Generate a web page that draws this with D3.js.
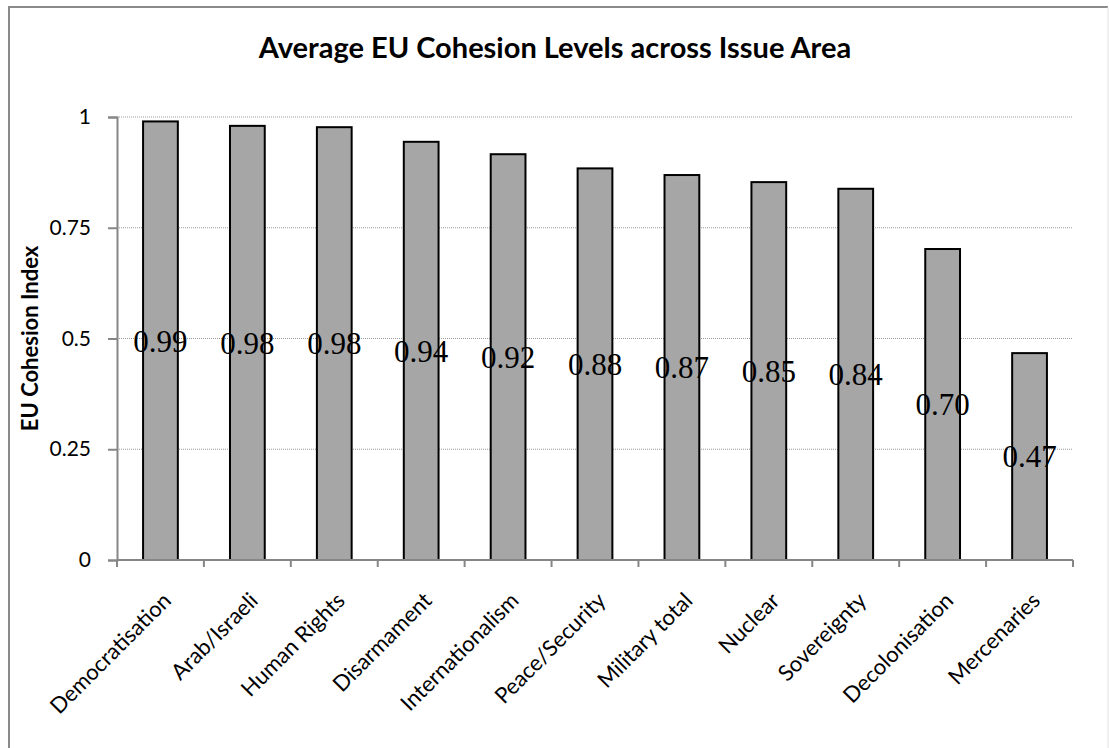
<!DOCTYPE html>
<html>
<head>
<meta charset="utf-8">
<script src="https://cdn.jsdelivr.net/npm/d3@7"></script>
<style>
  html, body { margin: 0; padding: 0; background: #fff; }
</style>
</head>
<body>
<div id="chart"></div>
<script>
// Chart data
const categories = ["Democratisation", "Arab/Israeli", "Human Rights", "Disarmament", "Internationalism",
    "Peace/Security", "Military total", "Nuclear", "Sovereignty", "Decolonisation", "Mercenaries"];
const values = [0.99, 0.98, 0.977, 0.944, 0.916, 0.884, 0.869, 0.853, 0.838, 0.702, 0.467];
const valueLabels = ["0.99", "0.98", "0.98", "0.94", "0.92", "0.88", "0.87", "0.85", "0.84", "0.70", "0.47"];
const yTicks = [0, 0.25, 0.5, 0.75, 1];
const yTickLabels = ["0", "0.25", "0.5", "0.75", "1"];

const W = 1109, H = 748;
const margin = { top: 117, right: 36, bottom: 188, left: 117 },
      width = W - margin.left - margin.right,
      height = H - margin.top - margin.bottom;

const sansFont = "Lato, 'Open Sans', sans-serif";

const root = d3.select("#chart")
    .append("svg")
    .attr("width", W)
    .attr("height", H);

// Outer chart border (left and top dark, right edge faint)
root.append("line")
    .attr("x1", 9).attr("x2", 9).attr("y1", 7).attr("y2", H)
    .attr("stroke", "#8a8a8a").attr("stroke-width", 2);
root.append("line")
    .attr("x1", 8).attr("x2", 1108).attr("y1", 7).attr("y2", 7)
    .attr("stroke", "#8a8a8a").attr("stroke-width", 2);
root.append("line")
    .attr("x1", 1108).attr("x2", 1108).attr("y1", 7).attr("y2", H)
    .attr("stroke", "#e2e2e2").attr("stroke-width", 1);

// Title
root.append("text")
    .attr("x", 555)
    .attr("y", 58)
    .attr("text-anchor", "middle")
    .style("font-family", sansFont)
    .style("font-weight", "bold")
    .style("font-size", "29px")
    .text("Average EU Cohesion Levels across Issue Area");

const svg = root.append("g")
    .attr("transform", `translate(${margin.left},${margin.top})`);

// Scales
const x = d3.scaleBand()
    .domain(categories)
    .range([0, width])
    .paddingInner(0.6)
    .paddingOuter(0.3);

const y = d3.scaleLinear()
    .domain([0, 1])
    .range([height, 0]);

// Gridlines
svg.append("g")
    .selectAll("line")
    .data(yTicks.filter(d => d > 0))
    .enter()
    .append("line")
    .attr("x1", 0)
    .attr("x2", width)
    .attr("y1", d => y(d))
    .attr("y2", d => y(d))
    .attr("stroke", "#9a9a9a")
    .attr("stroke-width", 1)
    .attr("stroke-dasharray", "1,1");

// Y axis
const yAxis = svg.append("g")
    .call(d3.axisLeft(y).tickValues(yTicks).tickFormat((d, i) => yTickLabels[i]).tickSizeOuter(0).tickSize(9).tickPadding(17));
yAxis.select(".domain").attr("stroke", "#868686").attr("stroke-width", 2);
yAxis.selectAll(".tick line").attr("stroke", "#868686").attr("stroke-width", 2);
yAxis.selectAll("text")
    .style("font-family", sansFont)
    .style("font-size", "21px")
    .attr("fill", "#000");

// Y axis title
svg.append("text")
    .attr("transform", "rotate(-90)")
    .attr("x", -height / 2)
    .attr("y", -79)
    .attr("text-anchor", "middle")
    .style("font-family", sansFont)
    .style("font-weight", "bold")
    .style("font-size", "22px")
    .text("EU Cohesion Index");

// Bars
svg.selectAll(".bar")
    .data(values)
    .enter()
    .append("rect")
    .attr("class", "bar")
    .attr("x", (d, i) => x(categories[i]))
    .attr("y", d => y(d))
    .attr("width", x.bandwidth())
    .attr("height", d => height - y(d))
    .attr("fill", "#a6a6a6")
    .attr("stroke", "#000")
    .attr("stroke-width", 2);

// X axis (ticks on band boundaries)
const bounds = d3.range(categories.length + 1).map(i => i * width / categories.length);
const xAxisG = svg.append("g")
    .attr("transform", `translate(0,${height})`);
xAxisG.append("line")
    .attr("x1", 0)
    .attr("x2", width)
    .attr("stroke", "#868686")
    .attr("stroke-width", 2);
xAxisG.selectAll(".xtick")
    .data(bounds)
    .enter()
    .append("line")
    .attr("x1", d => d)
    .attr("x2", d => d)
    .attr("y1", 0)
    .attr("y2", 7)
    .attr("stroke", "#868686")
    .attr("stroke-width", 2);

// Rotated category labels
xAxisG.selectAll(".xlabel")
    .data(categories)
    .enter()
    .append("text")
    .attr("transform", d => `translate(${x(d) + x.bandwidth() / 2 + 12},${42}) rotate(-45)`)
    .attr("text-anchor", "end")
    .style("font-family", sansFont)
    .style("font-size", "22px")
    .text(d => d);

// Value labels centred in the bars
svg.selectAll(".vlabel")
    .data(values)
    .enter()
    .append("text")
    .attr("x", (d, i) => x(categories[i]) + x.bandwidth() / 2)
    .attr("y", d => y(d / 2))
    .attr("dy", "0.35em")
    .attr("text-anchor", "middle")
    .style("font-family", "'Liberation Serif', 'Times New Roman', serif")
    .style("font-size", "31px")
    .text((d, i) => valueLabels[i]);
</script>
</body>
</html>
